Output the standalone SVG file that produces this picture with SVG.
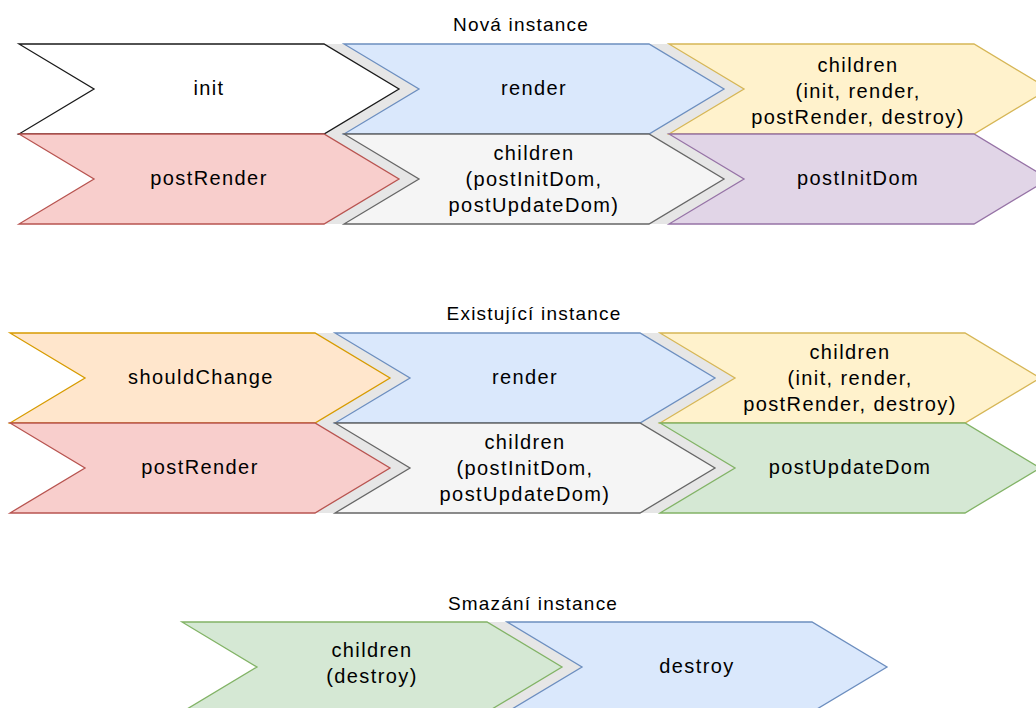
<svg xmlns="http://www.w3.org/2000/svg" xmlns:xlink="http://www.w3.org/1999/xlink" width="1036" height="708" viewBox="0 0 1036 708">
  <style>
    text { font-family: "Liberation Sans", Arial, Helvetica, sans-serif; fill: #000; text-anchor: middle; }
    .lbl { font-size: 20px; letter-spacing: 1.4px; }
    .title { font-size: 19px; letter-spacing: 1.2px; }
    .step { stroke-width: 1.3; stroke-linejoin: miter; }
    .shadow { fill: #e6e6e6; stroke: none; }
    .white  { fill: #ffffff; stroke: #1a1a1a; }
    .blue   { fill: #dae8fc; stroke: #6c8ebf; }
    .yellow { fill: #fff2cc; stroke: #d6b656; }
    .red    { fill: #f8cecc; stroke: #b85450; }
    .gray   { fill: #f5f5f5; stroke: #666666; }
    .purple { fill: #e1d5e7; stroke: #9673a6; }
    .orange { fill: #ffe6cc; stroke: #d79b00; }
    .green  { fill: #d5e8d4; stroke: #82b366; }
  </style>
  <defs>
    <!-- chevron step: 380 wide, 90 high, 75 deep point/notch -->
    <polygon id="chev" points="0,0 305,0 380,45 305,90 0,90 75,45"/>
  </defs>

  <rect width="1036" height="708" fill="#ffffff"/>

  <!-- titles -->
  <text class="title" x="521" y="31">Nová instance</text>
  <text class="title" x="534" y="320">Existující instance</text>
  <text class="title" x="533" y="610">Smazání instance</text>

  <!-- gap fill between consecutive steps -->
  <g id="connectors">
    <use xlink:href="#chev" href="#chev" class="shadow" x="39" y="44"/>
    <use xlink:href="#chev" href="#chev" class="shadow" x="364" y="44"/>
    <use xlink:href="#chev" href="#chev" class="shadow" x="39" y="134"/>
    <use xlink:href="#chev" href="#chev" class="shadow" x="364" y="134"/>
    <use xlink:href="#chev" href="#chev" class="shadow" x="30" y="333"/>
    <use xlink:href="#chev" href="#chev" class="shadow" x="355" y="333"/>
    <use xlink:href="#chev" href="#chev" class="shadow" x="30" y="423"/>
    <use xlink:href="#chev" href="#chev" class="shadow" x="355" y="423"/>
    <use xlink:href="#chev" href="#chev" class="shadow" x="202" y="622"/>
  </g>

  <!-- new instance -->
  <g id="new-init">
    <use xlink:href="#chev" href="#chev" class="step white" x="19" y="44"/>
    <text class="lbl" x="209" y="95">init</text>
  </g>
  <g id="new-render">
    <use xlink:href="#chev" href="#chev" class="step blue" x="344" y="44"/>
    <text class="lbl" x="534" y="95">render</text>
  </g>
  <g id="new-children">
    <use xlink:href="#chev" href="#chev" class="step yellow" x="669" y="44"/>
    <text class="lbl" x="858" y="71.5">children</text>
    <text class="lbl" x="858" y="97.5">(init, render,</text>
    <text class="lbl" x="858" y="123.5">postRender, destroy)</text>
  </g>
  <g id="new-postRender">
    <use xlink:href="#chev" href="#chev" class="step red" x="19" y="134"/>
    <text class="lbl" x="209" y="185">postRender</text>
  </g>
  <g id="new-children-dom">
    <use xlink:href="#chev" href="#chev" class="step gray" x="344" y="134"/>
    <text class="lbl" x="534" y="160">children</text>
    <text class="lbl" x="534" y="186">(postInitDom,</text>
    <text class="lbl" x="534" y="212">postUpdateDom)</text>
  </g>
  <g id="new-postInitDom">
    <use xlink:href="#chev" href="#chev" class="step purple" x="669" y="134"/>
    <text class="lbl" x="858" y="185">postInitDom</text>
  </g>

  <!-- existing instance -->
  <g id="ex-shouldChange">
    <use xlink:href="#chev" href="#chev" class="step orange" x="10" y="333"/>
    <text class="lbl" x="201" y="384">shouldChange</text>
  </g>
  <g id="ex-render">
    <use xlink:href="#chev" href="#chev" class="step blue" x="335" y="333"/>
    <text class="lbl" x="525" y="384">render</text>
  </g>
  <g id="ex-children">
    <use xlink:href="#chev" href="#chev" class="step yellow" x="660" y="333"/>
    <text class="lbl" x="850" y="359">children</text>
    <text class="lbl" x="850" y="385">(init, render,</text>
    <text class="lbl" x="850" y="411">postRender, destroy)</text>
  </g>
  <g id="ex-postRender">
    <use xlink:href="#chev" href="#chev" class="step red" x="10" y="423"/>
    <text class="lbl" x="200" y="474">postRender</text>
  </g>
  <g id="ex-children-dom">
    <use xlink:href="#chev" href="#chev" class="step gray" x="335" y="423"/>
    <text class="lbl" x="525" y="449">children</text>
    <text class="lbl" x="525" y="475">(postInitDom,</text>
    <text class="lbl" x="525" y="501">postUpdateDom)</text>
  </g>
  <g id="ex-postUpdateDom">
    <use xlink:href="#chev" href="#chev" class="step green" x="660" y="423"/>
    <text class="lbl" x="850" y="474">postUpdateDom</text>
  </g>

  <!-- removed instance -->
  <g id="del-children">
    <use xlink:href="#chev" href="#chev" class="step green" x="182" y="622"/>
    <text class="lbl" x="372" y="657">children</text>
    <text class="lbl" x="372" y="683">(destroy)</text>
  </g>
  <g id="del-destroy">
    <use xlink:href="#chev" href="#chev" class="step blue" x="507" y="622"/>
    <text class="lbl" x="697" y="673">destroy</text>
  </g>
</svg>
